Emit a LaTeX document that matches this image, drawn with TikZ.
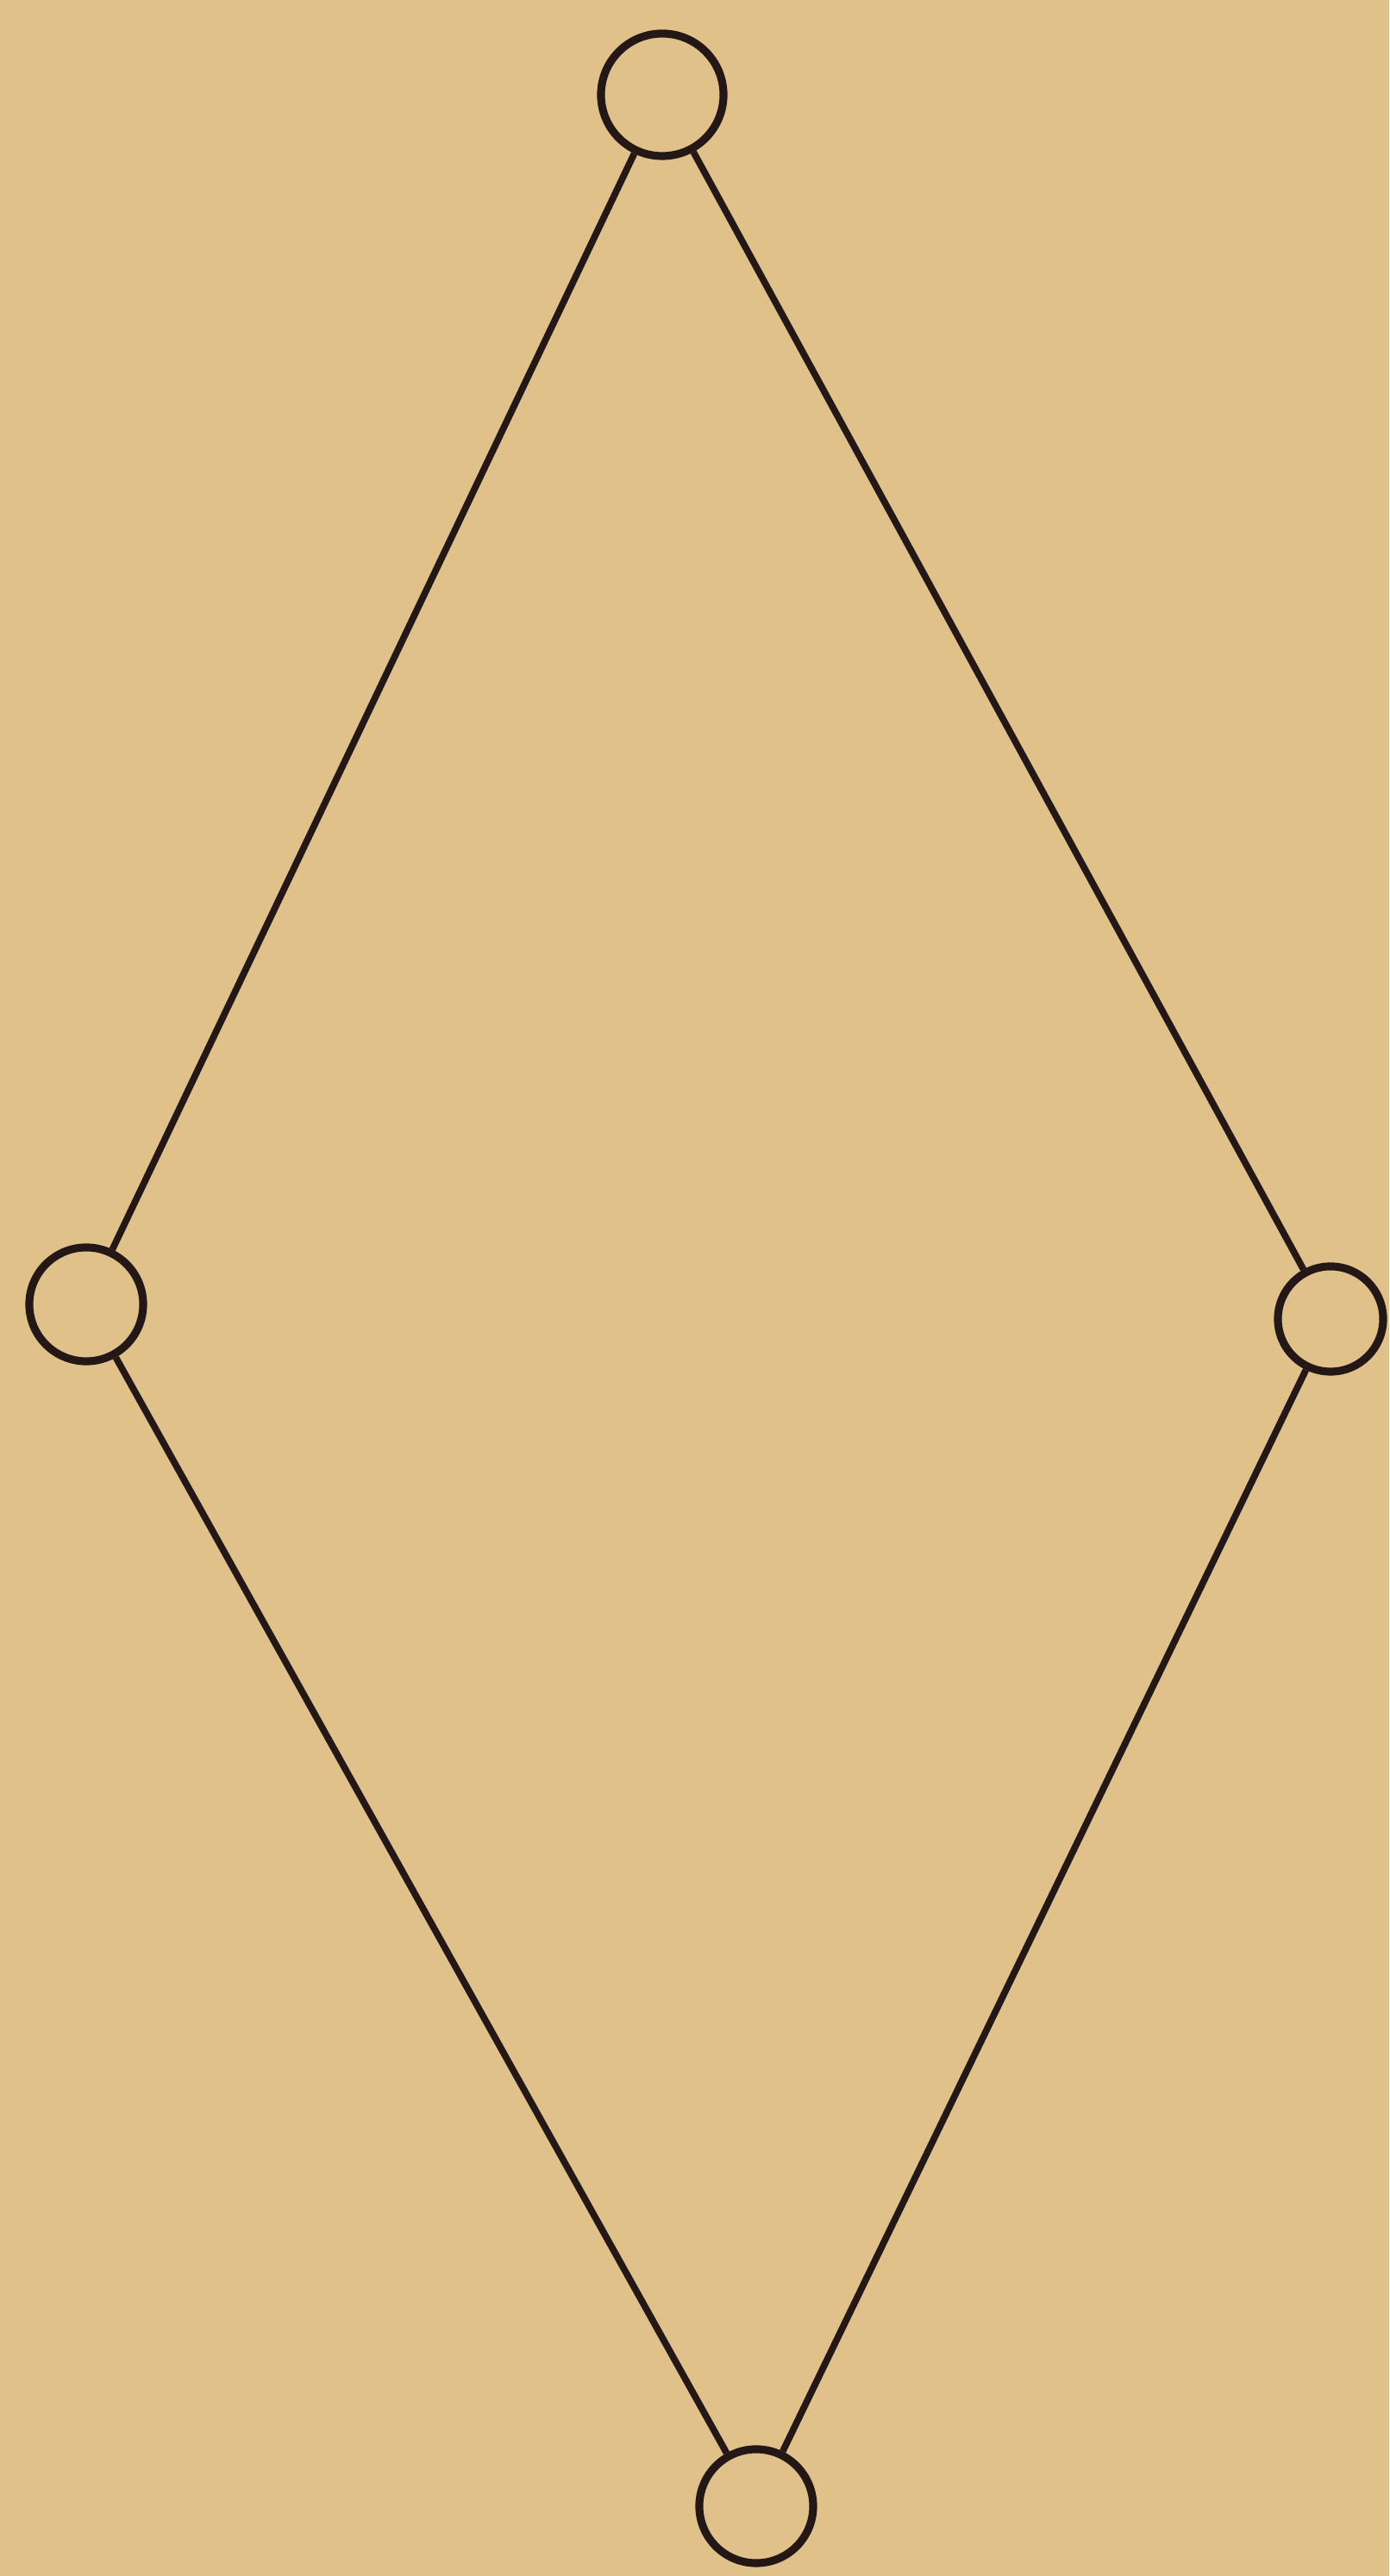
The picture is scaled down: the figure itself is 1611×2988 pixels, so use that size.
\documentclass[tikz,border=0pt]{standalone}
\usepackage{xcolor}
\definecolor{PaperTan}{RGB}{224, 193, 137}
\definecolor{InkDark}{RGB}{36, 24, 22}
\usepackage{tikz}
\usetikzlibrary{positioning}

\begin{document}
\begin{tikzpicture}[x=0.01cm, y=0.01cm,
        vertex/.style={draw=InkDark, circle, line width=2.6pt, inner sep=0pt},
        edge/.style={draw=InkDark, line width=2.2pt}]
                \fill[PaperTan] (0,0) rectangle (1611,2988);
                \useasboundingbox (0,0) rectangle (1611,2988);
                \node[vertex, minimum size=1.42cm] (top) at (768, 2878) {};
                \node[vertex, minimum size=1.32cm] (left) at (100, 1475) {};
                \node[vertex, minimum size=1.22cm] (right) at (1543, 1458) {};
                \node[vertex, minimum size=1.32cm] (bottom) at (877, 81) {};
                \draw[edge] (top) -- (left);
                \draw[edge] (top) -- (right);
                \draw[edge] (left) -- (bottom);
                \draw[edge] (right) -- (bottom);
            \end{tikzpicture}
\end{document}
